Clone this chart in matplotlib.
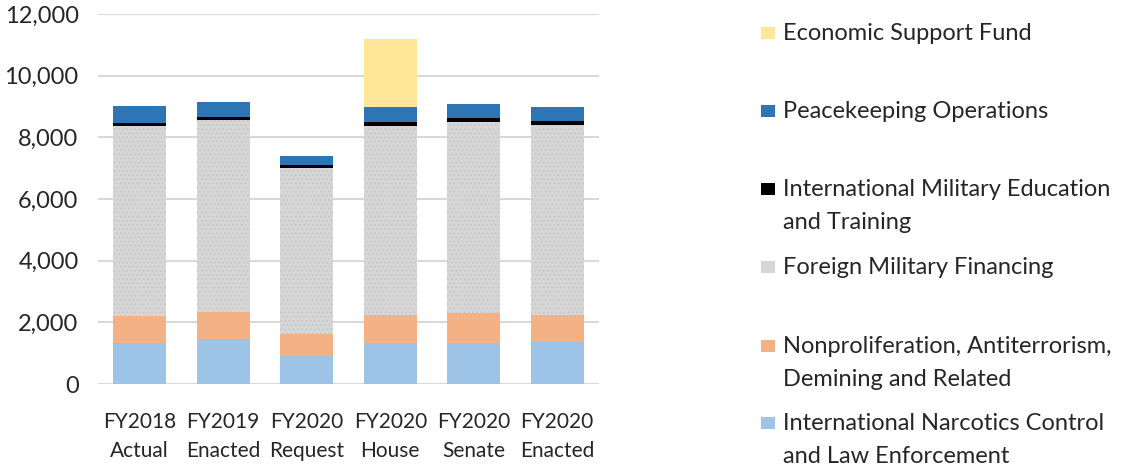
import matplotlib
matplotlib.use("Agg")
import matplotlib.pyplot as plt
import numpy as np
from matplotlib.patches import Rectangle
from matplotlib.ticker import FuncFormatter

plt.rcParams["font.family"] = ["Lato", "DejaVu Sans"]
plt.rcParams["hatch.linewidth"] = 0.6

# ---------- data (millions of dollars) ----------
categories = ["FY2018\nActual", "FY2019\nEnacted", "FY2020\nRequest",
              "FY2020\nHouse", "FY2020\nSenate", "FY2020\nEnacted"]

incle = [1345, 1470, 920, 1345, 1330, 1365]
nadr  = [865, 875, 705, 905, 975, 885]
fmf   = [6160, 6215, 5375, 6120, 6180, 6160]
imet  = [110, 110, 95, 130, 140, 130]
pko   = [520, 490, 290, 495, 445, 455]
esf   = [0, 0, 0, 2195, 0, 0]

series = [incle, nadr, fmf, imet, pko, esf]
colors = ["#9DC3E6", "#F4B183", "#D6D6D6", "#000000", "#2E75B6", "#FFE699"]
hatches = [None, None, "....", None, None, None]

legend_labels = ["Economic Support Fund",
                 "Peacekeeping Operations",
                 "International Military Education\nand Training",
                 "Foreign Military Financing",
                 "Nonproliferation, Antiterrorism,\nDemining and Related",
                 "International Narcotics Control\nand Law Enforcement"]
legend_colors = ["#FFE699", "#2E75B6", "#000000", "#D6D6D6", "#F4B183", "#9DC3E6"]

# ---------- draw ----------
W, H = 1133, 469
fig = plt.figure(figsize=(W / 100, H / 100), dpi=100)
ax = fig.add_axes([98 / W, 1 - 384 / H, (599 - 98) / W, (384 - 14) / H])

x = np.arange(len(categories))
bottom = np.zeros(len(categories))
for vals, c, h in zip(series, colors, hatches):
    vals = np.array(vals, dtype=float)
    if h:
        ax.bar(x, vals, 0.635, bottom=bottom, color=c, hatch=h,
               edgecolor="#c4c4c4", linewidth=0, zorder=2)
    else:
        ax.bar(x, vals, 0.635, bottom=bottom, color=c, linewidth=0, zorder=2)
    bottom += vals

ax.set_xlim(-0.5, len(categories) - 0.5)
ax.set_ylim(0, 12000)
ax.set_yticks(np.arange(0, 12001, 2000))
ax.yaxis.set_major_formatter(FuncFormatter(lambda v, p: f"{v:,.0f}"))
ax.set_xticks(x)
ax.set_xticklabels(categories, fontsize=15, color="#262626", linespacing=1.6)
ax.tick_params(axis="y", labelsize=17, labelcolor="#262626", length=0, pad=14)
ax.tick_params(axis="x", length=0, pad=20)
ax.grid(axis="y", color="#d9d9d9", lw=1.5, zorder=0)
for s in ax.spines.values():
    s.set_visible(False)

# legend, Excel style: square marker aligned with first line
baselines = [40, 118, 196, 274, 353, 430]
line_gap = 33
for yb, lab, c in zip(baselines, legend_labels, legend_colors):
    fig.patches.append(Rectangle((761 / W, 1 - (yb - 1) / H), 14 / W, 12 / H,
                                 transform=fig.transFigure, facecolor=c,
                                 edgecolor="none"))
    for i, line in enumerate(lab.split("\n")):
        fig.text(783 / W, 1 - (yb + i * line_gap) / H, line, fontsize=17,
                 color="#262626", va="baseline", ha="left")

fig.savefig("out.png", dpi=100, facecolor="white")
